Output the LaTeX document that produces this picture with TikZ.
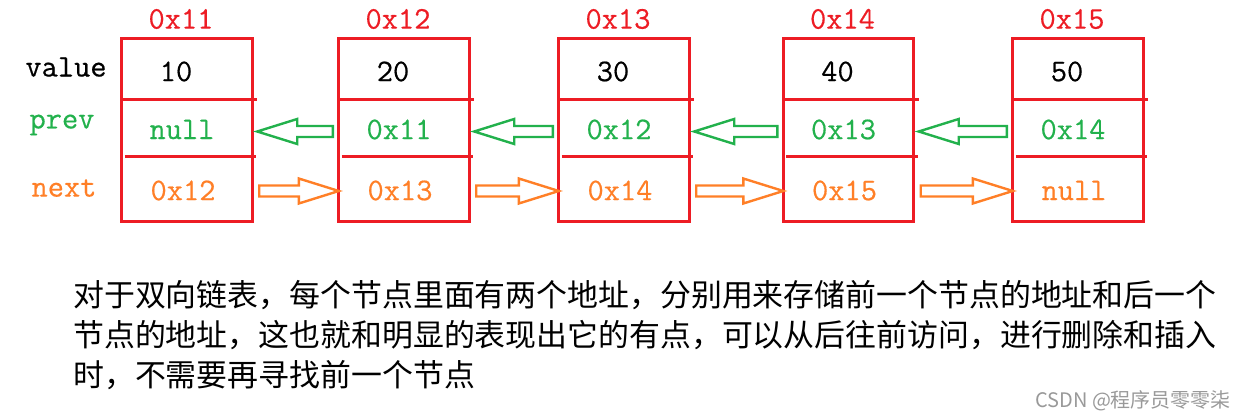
\documentclass[tikz,border=0pt]{standalone}
\usepackage{fontspec}
\newfontfamily\cjk{Noto Sans CJK SC}
\newfontfamily\codefont[FakeBold=0.5]{Latin Modern Mono}
\usetikzlibrary{calc}
\definecolor{boxred}{RGB}{237,28,36}
\definecolor{prevgreen}{RGB}{34,177,76}
\definecolor{nextorange}{RGB}{255,127,39}
\tikzset{
	hollow/.style={line width=2.4pt,line join=miter,to path={
		($(\tikztostart)+(0,-5.5)$) -- ($(\tikztotarget)!40pt!(\tikztostart)+(0,-5.5)$)
		-- ($(\tikztotarget)!40pt!(\tikztostart)+(0,-12.5)$) -- (\tikztotarget)
		-- ($(\tikztotarget)!40pt!(\tikztostart)+(0,12.5)$) -- ($(\tikztotarget)!40pt!(\tikztostart)+(0,5.5)$)
		-- ($(\tikztostart)+(0,5.5)$) -- cycle}},
}
\begin{document}
\begin{tikzpicture}[x=1pt,y=-1pt,
	cell/.style={minimum width=130pt,inner sep=0pt},
	txt/.style={font=\codefont\fontsize{31.5}{31.5}\selectfont,inner sep=0pt},
	box/.style={draw=boxred,line width=3pt},
	cjkline/.style={anchor=base west,inner sep=0pt,font=\cjk\fontsize{30.9}{40}\selectfont}]
	\useasboundingbox (0,0) rectangle (1240,417);
	\node[txt] (lv) at (66,67) {value};
	\node[txt,text=prevgreen] (lp) at (62,125) {prev};
	\node[txt,text=nextorange] (ln) at (64,188) {next};
	\foreach \i/\cx/\ad/\val/\pv/\nx in {1/187/0x11/10/null/0x12,2/404/0x12/20/0x11/0x13,3/624/0x13/30/0x12/0x14,4/848.5/0x14/40/0x13/0x15,5/1078/0x15/50/0x14/null}
	{
		\node[cell,minimum height=61pt] (v\i) at (\cx,69.5) {};
		\node[cell,minimum height=57pt] (p\i) at (\cx,128.5) {};
		\node[cell,minimum height=64pt] (n\i) at (\cx,189) {};
		\draw[box] (v\i.north west) rectangle (n\i.south east);
		\draw[box] (p\i.north west) -- ([xshift=5pt]p\i.north east);
		\draw[box] ([xshift=3pt]n\i.north west) -- ([xshift=4pt]n\i.north east);
		\node[txt,text=boxred] (a\i) at (\cx-6,19) {\ad};
		\node[txt] (vt\i) at ([xshift=-11pt,yshift=-2pt]v\i.center) {\val};
		\node[txt,text=prevgreen] (pt\i) at ([xshift=-5pt,yshift=-1pt]p\i.center) {\pv};
		\node[txt,text=nextorange] (nt\i) at ([xshift=-4pt,yshift=-1.5pt]n\i.center) {\nx};
	}
	\foreach \i/\j in {1/2,2/3,3/4,4/5}
	{
		\draw[hollow,draw=prevgreen] ([xshift=-6pt,yshift=-3pt]p\j.west) to ([xshift=5pt,yshift=-3pt]p\i.east);
		\draw[hollow,draw=nextorange] ([xshift=7pt,yshift=-2pt]n\i.east) to ([yshift=-2pt]n\j.west);
	}
	\node[cjkline] (l1) at (73,306) {对于双向链表，每个节点里面有两个地址，分别用来存储前一个节点的地址和后一个};
	\node[cjkline] (l2) at (73,346) {节点的地址，这也就和明显的表现出它的有点，可以从后往前访问，进行删除和插入};
	\node[cjkline] (l3) at (73,386) {时，不需要再寻找前一个节点};
	\node[anchor=base west,inner sep=0pt,text=black!40,font=\cjk\fontsize{20}{20}\selectfont] (mark) at (1035,407) {CSDN @程序员零零柒};
\end{tikzpicture}
\end{document}
